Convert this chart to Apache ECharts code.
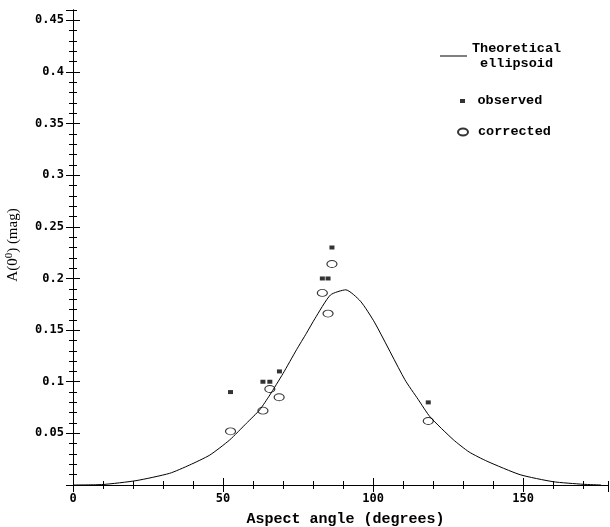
<!DOCTYPE html>
<html>
<head>
<meta charset="utf-8">
<title></title>
<script src="https://cdn.jsdelivr.net/npm/echarts@6/dist/echarts.min.js"></script>
<style>
  html, body { margin: 0; padding: 0; background: #fff; }
  #chart { width: 610px; height: 527px; }
</style>
</head>
<body>
<div id="chart"></div>
<script>
// theoretical ellipsoid curve (aspect angle, A(0) mag)
var curveX = [0, 10, 21, 32.2, 38.9, 45.6, 52.2, 57.8, 62.2, 65.6, 70, 74.5, 77.8, 80.6, 85.8, 90.9, 95.8, 100.6, 110.6, 115, 119, 126.7, 132, 138, 149, 160, 170, 176];
var curveY = [0, 0.0005, 0.0042, 0.0113, 0.0194, 0.029, 0.0436, 0.0598, 0.0727, 0.0872, 0.108, 0.131, 0.147, 0.161, 0.184, 0.189, 0.178, 0.157, 0.102, 0.083, 0.066, 0.044, 0.032, 0.023, 0.010, 0.0032, 0.0007, 0];

// observed points
var obsX = [52.5, 63.3, 65.6, 68.8, 83.1, 85.0, 86.3, 118.4];
var obsY = [0.090, 0.100, 0.100, 0.110, 0.200, 0.200, 0.230, 0.080];

// corrected points
var corX = [52.5, 63.3, 65.6, 68.7, 83.1, 85.0, 86.3, 118.4];
var corY = [0.052, 0.072, 0.093, 0.085, 0.186, 0.166, 0.214, 0.062];

var names = ['Theoretical\n ellipsoid', 'observed', 'corrected'];

function pairs(xs, ys) {
  var out = [];
  for (var i = 0; i < xs.length; i++) out.push([xs[i], ys[i]]);
  return out;
}

var XMAX = 178.3, YMAX = 0.46;
var labelFont = { fontFamily: 'DejaVu Sans Mono', fontWeight: 'bold', fontSize: 12, color: '#000' };
var monoFont = { fontFamily: 'Liberation Mono', fontWeight: 'bold', fontSize: 13.5, color: '#000' };

function xAx(pos, interval, len, labels, line) {
  return {
    type: 'value', position: pos, min: 0, max: XMAX, interval: interval,
    splitLine: { show: false },
    axisLine: { show: line, lineStyle: { color: '#000', width: 1 } },
    axisTick: { inside: true, length: len, lineStyle: { color: '#000' } },
    axisLabel: labels ? Object.assign({ show: true, margin: 8, showMaxLabel: false }, labelFont) : { show: false }
  };
}
function yAx(pos, interval, len, labels, line) {
  return {
    type: 'value', position: pos, min: 0, max: YMAX, interval: interval,
    splitLine: { show: false },
    axisLine: { show: line, lineStyle: { color: '#000', width: 1 } },
    axisTick: { inside: true, length: len, lineStyle: { color: '#000' } },
    axisLabel: labels ? Object.assign({ show: true, margin: 9, showMaxLabel: false, showMinLabel: false }, labelFont) : { show: false }
  };
}

var xAxes = [
  xAx('bottom', 50, 7, true, true),
  xAx('bottom', 10, 4, false, false),
  xAx('top', 50, 7, false, true),
  xAx('top', 10, 4, false, false)
];
xAxes[0].name = 'Aspect angle (degrees)';
xAxes[0].nameLocation = 'middle';
xAxes[0].nameGap = 27;
xAxes[0].nameTextStyle = { fontFamily: 'Liberation Mono', fontWeight: 'bold', fontSize: 15, color: '#000', padding: [0, 0, 0, 10] };

var yAxes = [
  yAx('left', 0.05, 7, true, true),
  yAx('left', 0.01, 4, false, false),
  yAx('right', 0.05, 7, false, true),
  yAx('right', 0.01, 4, false, false)
];
yAxes[0].name = 'A(0{s|0}) (mag)';
yAxes[0].nameLocation = 'middle';
yAxes[0].nameRotate = 90;
yAxes[0].nameGap = 51;
yAxes[0].nameTextStyle = {
  fontFamily: 'Liberation Serif', fontSize: 15, color: '#000', padding: [0, 0, 0, 5],
  rich: { s: { fontFamily: 'Liberation Serif', fontSize: 11, verticalAlign: 'top', padding: [0, 0, 7, 0] } }
};

var option = {
  animation: false,
  backgroundColor: '#fff',
  grid: { left: 73, right: 2, top: 10, bottom: 42, containLabel: false, outerBoundsMode: 'none' },
  xAxis: xAxes,
  yAxis: yAxes,
  legend: [
    {
      data: [{ name: names[0], icon: 'path://M0,0h27v1h-27z' }], left: 435, top: 36, itemWidth: 27, itemHeight: 1,
      textStyle: Object.assign({ lineHeight: 15 }, monoFont)
    },
    {
      data: [{ name: names[1], icon: 'path://M0,0h5v4h-5z' }], left: 455, top: 89,
      itemWidth: 20, itemHeight: 4, textStyle: monoFont
    },
    {
      data: [{ name: names[2], icon: 'path://M0,3.5A5,3.5 0 1,1 10,3.5A5,3.5 0 1,1 0,3.5Z' }], left: 452, top: 120,
      itemWidth: 20, itemHeight: 7, textStyle: monoFont
    }
  ],
  series: [
    {
      name: names[0], type: 'line', symbol: 'none', smooth: 0.2,
      lineStyle: { color: '#000', width: 1 }, itemStyle: { color: '#000' },
      data: pairs(curveX, curveY)
    },
    {
      name: names[1], type: 'scatter', symbol: 'rect', symbolSize: [5, 4],
      itemStyle: { color: '#000' },
      data: pairs(obsX, obsY)
    },
    {
      name: names[2], type: 'scatter', symbol: 'circle', symbolSize: [10, 7],
      itemStyle: { color: 'rgba(0,0,0,0)', borderColor: '#000', borderWidth: 1 },
      data: pairs(corX, corY)
    }
  ]
};

var chart = echarts.init(document.getElementById('chart'));
chart.setOption(option);
</script>
</body>
</html>
